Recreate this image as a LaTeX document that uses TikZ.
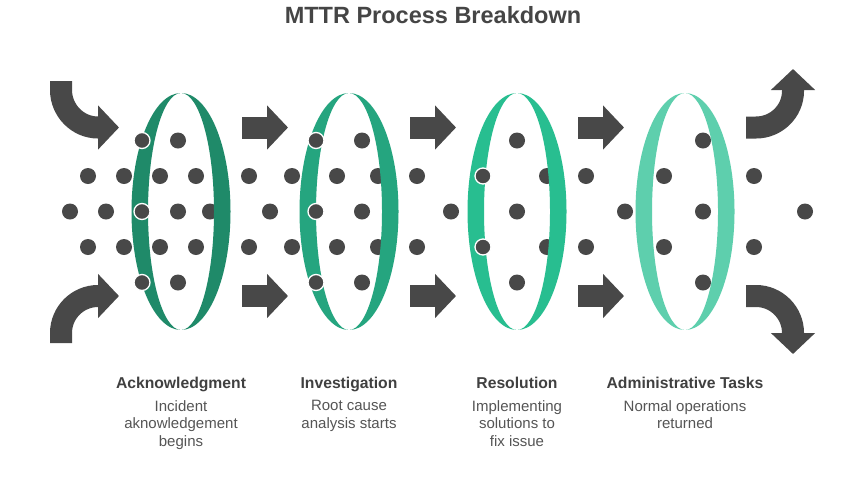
\documentclass[tikz,border=0pt]{standalone}
\usepackage{fontspec}
\setmainfont{Liberation Sans}
\usetikzlibrary{arrows.meta}
\definecolor{dotc}{HTML}{484848}
\definecolor{ringA}{HTML}{1F8A69}
\definecolor{ringB}{HTML}{25A57F}
\definecolor{ringC}{HTML}{28BE90}
\definecolor{ringD}{HTML}{5ECFAD}
\definecolor{titlec}{HTML}{454545}
\definecolor{labc}{HTML}{404040}
\definecolor{descc}{HTML}{555555}
\begin{document}
\begin{tikzpicture}[x=1pt,y=-1pt,
  plaindot/.style={fill=dotc},
  frontdot/.style={fill=dotc,draw=white,line width=1.3pt},
  bigarrow/.style={draw=dotc,line width=22pt,-{Triangle[length=21pt,width=43pt]}},
  gapline/.style={draw=white,line width=2.6pt},
  titletext/.style={anchor=base,inner sep=0pt,text=titlec,font=\fontsize{23.5}{27}\selectfont\bfseries},
  labtext/.style={anchor=base,inner sep=0pt,text=labc,font=\fontsize{15.7}{18}\selectfont\bfseries},
  desctext/.style={anchor=north,inner sep=0pt,align=center,text=descc,font=\fontsize{15}{17.7}\selectfont}]
\useasboundingbox[fill=white] (0,0) rectangle (866,480);

\node[titletext] (title) at (433,23.3) {MTTR Process Breakdown};

% dots behind the rings
\foreach \x/\y in {178/140.5, 362/140.5, 517/140.5, 703/140.5,
  178/282.5, 362/282.5, 517/282.5, 703/282.5,
  70/211.5, 106/211.5, 178/211.5, 210/211.5, 270/211.5, 362/211.5, 451/211.5, 517/211.5, 625/211.5, 703/211.5, 805/211.5}
  \fill[plaindot] (\x,\y) circle[radius=8pt];
\foreach \x in {88,124,160,196,249,292,337,378,417,547,586,664,754}{
  \fill[plaindot] (\x,176) circle[radius=8pt];
  \fill[plaindot] (\x,247) circle[radius=8pt];
}

% rings
\foreach \cx/\col [count=\i] in {181/ringA, 349/ringB, 517/ringC, 685/ringD}{
  \coordinate (ring\i) at (\cx,211.5);
  \fill[\col, even odd rule] (ring\i) ellipse [x radius=49.5pt, y radius=118.5pt]
    (ring\i) ellipse [x radius=33pt, y radius=118.5pt];
  \draw[gapline] (\cx,90) -- (\cx,106);
  \draw[gapline] (\cx,317) -- (\cx,333);
}

% dots in front of the rings
\foreach \x/\y in {142/140.5, 142/211.5, 142/282.5, 316/140.5, 316/211.5, 316/282.5, 483/176, 483/247}
  \filldraw[frontdot] (\x,\y) circle[radius=8pt];

% curved arrows in
\coordinate (inTs) at (61,81);
\coordinate (inTe) at (119,127.5);
\coordinate (inBs) at (61,343);
\coordinate (inBe) at (119,296);
\draw[bigarrow] (inTs) -- (61,90) .. controls (61,110.4) and (77.6,127.5) .. (98,127.5) -- (inTe);
\draw[bigarrow] (inBs) -- (61,333) .. controls (61,312.6) and (77.6,296) .. (98,296) -- (inBe);

% straight arrows
\foreach \xs in {242,410,578}{
  \coordinate (sT\xs) at (\xs,127.5);
  \coordinate (eT\xs) at (\xs+46,127.5);
  \coordinate (sB\xs) at (\xs,296);
  \coordinate (eB\xs) at (\xs+46,296);
  \draw[bigarrow] (sT\xs) -- (eT\xs);
  \draw[bigarrow] (sB\xs) -- (eB\xs);
}

% curved arrows out
\coordinate (outTs) at (746,127.5);
\coordinate (outTe) at (793,69);
\coordinate (outBs) at (746,296);
\coordinate (outBe) at (793,354);
\draw[bigarrow] (outTs) -- (756,127.5) .. controls (776.4,127.5) and (793,111) .. (793,91) -- (outTe);
\draw[bigarrow] (outBs) -- (756,296) .. controls (776.4,296) and (793,312.6) .. (793,333) -- (outBe);

% labels
\node[labtext] (lab1) at (181,388.3) {Acknowledgment};
\node[labtext] (lab2) at (349,388.3) {Investigation};
\node[labtext] (lab3) at (517,388.3) {Resolution};
\node[labtext] (lab4) at (685,388.3) {Administrative Tasks};

\node[desctext] (desc1) at (181,400) {Incident\\aknowledgement\\begins};
\node[desctext] (desc2) at (349,400) {Root cause\\analysis starts};
\node[desctext] (desc3) at (517,400) {Implementing\\solutions to\\fix issue};
\node[desctext] (desc4) at (685,400) {Normal operations\\returned};
\end{tikzpicture}
\end{document}
